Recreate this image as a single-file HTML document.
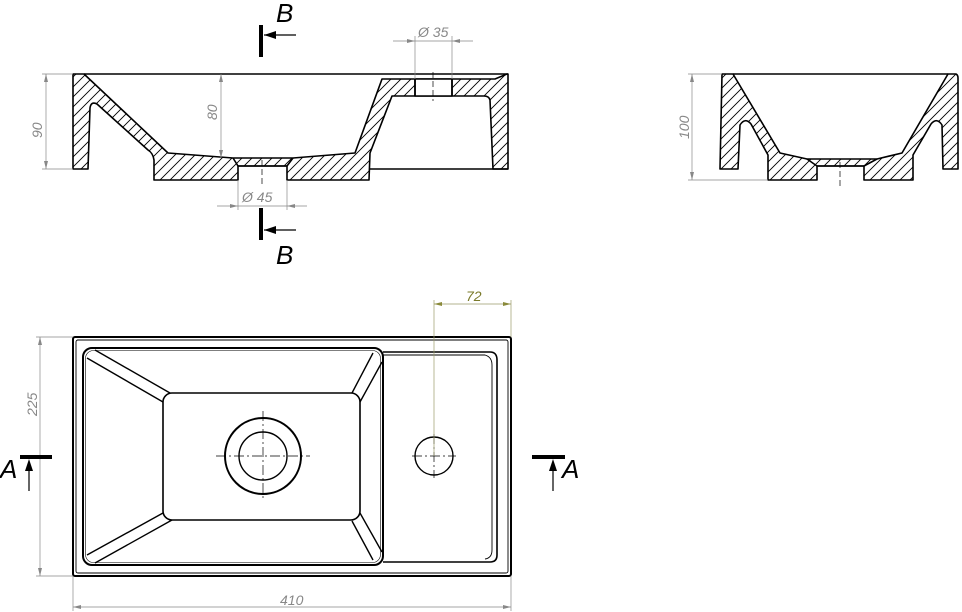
<!DOCTYPE html>
<html><head><meta charset="utf-8"><style>
html,body{margin:0;padding:0;background:#fff;}
svg{display:block;}
text{font-family:"Liberation Sans",sans-serif;font-style:italic;}
</style></head><body>
<svg width="962" height="612" viewBox="0 0 962 612" xmlns="http://www.w3.org/2000/svg">
<defs>
<pattern id="h" width="10" height="10" patternUnits="userSpaceOnUse">
<path d="M0,10 L10,0 M-2,2 L2,-2 M8,12 L12,8" stroke="#000" stroke-width="0.9"/>
</pattern>
</defs>

<!-- ===== Section B-B (left top) ===== -->
<g stroke="#000" stroke-width="1.6" stroke-linejoin="round">
<path fill="url(#h)" d="M73,74 L84,74 L168,153 L233,158 L293,158 L355,153 L382,79 L495,79 L507,74 L508,74 L508,169 L493,169 L490,100 Q489,96 484,96 L392,96 L370,153 L369,180 L287,180 L287,166 L238,166 L238,180 L154,180 L154,160 Q153,153 148,150 L97,104 Q91,101 90,108 L88,169 L73,169 Z"/>
<line x1="84" y1="74" x2="508" y2="74"/>
<line x1="370" y1="169" x2="508" y2="169"/>
<rect x="415" y="79" width="37" height="17" fill="#fff"/>
<line x1="415" y1="79" x2="415" y2="96"/><line x1="452" y1="79" x2="452" y2="96"/>
<line x1="233" y1="158" x2="238" y2="166"/><line x1="293" y1="158" x2="287" y2="166"/>
<line x1="238" y1="166" x2="287" y2="166"/>
</g>
<g stroke="#000" stroke-width="0.7" stroke-dasharray="6,3">
<line x1="262" y1="160" x2="262" y2="186"/>
<line x1="433" y1="72" x2="433" y2="101"/>
</g>
<!-- dims -->
<g stroke="#888" stroke-width="0.7" fill="none">
<line x1="42" y1="74" x2="73" y2="74"/><line x1="42" y1="169" x2="73" y2="169"/>
<line x1="46" y1="74" x2="46" y2="169"/>
<line x1="221" y1="74" x2="221" y2="158"/>
<line x1="393" y1="41" x2="473" y2="41"/>
<line x1="415" y1="36" x2="415" y2="79"/><line x1="452" y1="36" x2="452" y2="79"/>
<line x1="217" y1="206" x2="307" y2="206"/>
<line x1="238" y1="180" x2="238" y2="210"/><line x1="287" y1="180" x2="287" y2="210"/>
</g>
<g fill="#888">
<path d="M46,74 l-2,8 h4z"/><path d="M46,169 l-2,-8 h4z"/>
<path d="M221,74 l-2,8 h4z"/><path d="M221,158 l-2,-8 h4z"/>
<path d="M415,41 l-8,-2 v4z"/><path d="M452,41 l8,-2 v4z"/>
<path d="M238,206 l-8,-2 v4z"/><path d="M287,206 l8,-2 v4z"/>
</g>
<g fill="#888" font-size="14">
<text transform="translate(42,138) rotate(-90)">90</text>
<text transform="translate(217,120) rotate(-90)">80</text>
<text x="418" y="37">Ø 35</text>
<text x="242" y="202">Ø 45</text>
</g>
<!-- B markers -->
<g stroke="#000">
<line x1="261" y1="25" x2="261" y2="57" stroke-width="4"/>
<line x1="264" y1="35" x2="296" y2="35" stroke-width="1.2"/>
<line x1="261" y1="208" x2="261" y2="240" stroke-width="4"/>
<line x1="264" y1="230" x2="296" y2="230" stroke-width="1.2"/>
</g>
<path d="M264,35 l12,-4 v8z"/><path d="M264,230 l12,-4 v8z"/>
<text x="276" y="22" font-size="26">B</text>
<text x="276" y="264" font-size="26">B</text>

<!-- ===== Section A-A (right) ===== -->
<g stroke="#000" stroke-width="1.6" stroke-linejoin="round">
<path fill="url(#h)" d="M722,74 L733,74 L780,153 L807,159 L877,159 L902,153 L948,74 L956,74 Q958,75 958,78 L958,169 L943,169 L942,125 Q937,117 931,124 L913,155 L913,180 L864,180 L864,166 L817,166 L817,180 L768,180 L768,155 L751,124 Q745,117 740,125 L738,169 L720,169 Z"/>
<line x1="733" y1="74" x2="948" y2="74"/>
<line x1="807" y1="159" x2="817" y2="166"/><line x1="877" y1="159" x2="864" y2="166"/>
<line x1="817" y1="166" x2="864" y2="166"/>
</g>
<line x1="840" y1="162" x2="840" y2="186" stroke="#000" stroke-width="0.7" stroke-dasharray="6,3"/>
<g stroke="#888" stroke-width="0.7">
<line x1="688" y1="74" x2="722" y2="74"/><line x1="688" y1="180" x2="768" y2="180"/>
<line x1="692" y1="74" x2="692" y2="180"/>
</g>
<g fill="#888"><path d="M692,74 l-2,8 h4z"/><path d="M692,180 l-2,-8 h4z"/></g>
<text transform="translate(689,139) rotate(-90)" fill="#888" font-size="14">100</text>

<!-- ===== Plan view ===== -->
<g stroke="#000" fill="none">
<rect x="73" y="337" width="438" height="239" rx="2" stroke-width="2"/>
<rect x="76" y="340" width="432" height="233" rx="2" stroke-width="0.9"/>
<rect x="83" y="348" width="300" height="217" rx="9" stroke-width="2"/>
<rect x="85.5" y="350.5" width="295" height="212" rx="8" stroke-width="0.6"/>
<path d="M383,352 L490,352 Q497,352 497,360 L497,555 Q497,562 490,562 L383,562" stroke-width="1.6"/>
<path d="M383,355 L485,355 Q492,357 492,365 L492,550 Q492,558 485,559" stroke-width="0.9"/>
<rect x="163" y="393" width="197" height="127" rx="9" stroke-width="1.6"/>
<g stroke-width="1.4">
<line x1="87" y1="358" x2="163" y2="402"/><line x1="95" y1="350" x2="170" y2="393"/>
<line x1="373" y1="353" x2="352" y2="393"/><line x1="382" y1="362" x2="360" y2="402"/>
<line x1="87" y1="555" x2="163" y2="513"/><line x1="95" y1="563" x2="172" y2="520"/>
<line x1="352" y1="521" x2="373" y2="560"/><line x1="360" y1="513" x2="382" y2="552"/>
</g>
<circle cx="263" cy="456" r="38" stroke-width="2"/>
<circle cx="263" cy="456" r="24" stroke-width="1.4"/>
<ellipse cx="434" cy="456" rx="19" ry="19" stroke-width="1.4"/>
</g>
<g stroke="#000" stroke-width="0.7" stroke-dasharray="10,3,2,3">
<line x1="216" y1="456" x2="310" y2="456"/><line x1="263" y1="411" x2="263" y2="500"/>
<line x1="412" y1="456" x2="456" y2="456"/><line x1="434" y1="434" x2="434" y2="478"/>
</g>
<!-- dims plan -->
<g stroke="#888" stroke-width="0.7">
<line x1="36" y1="337" x2="73" y2="337"/><line x1="36" y1="576" x2="73" y2="576"/>
<line x1="40" y1="337" x2="40" y2="576"/>
<line x1="73" y1="576" x2="73" y2="611"/><line x1="511" y1="576" x2="511" y2="611"/>
<line x1="73" y1="607" x2="511" y2="607"/>
</g>
<g fill="#888">
<path d="M40,337 l-2,8 h4z"/><path d="M40,576 l-2,-8 h4z"/>
<path d="M73,607 l8,-2 v4z"/><path d="M511,607 l-8,-2 v4z"/>
</g>
<text transform="translate(37,416) rotate(-90)" fill="#888" font-size="14">225</text>
<text x="280" y="605" fill="#888" font-size="14">410</text>
<g stroke="#9a9a6a" stroke-width="0.7">
<line x1="434" y1="300" x2="434" y2="456"/><line x1="511" y1="300" x2="511" y2="337"/>
<line x1="434" y1="304" x2="511" y2="304"/>
</g>
<g fill="#8a8a3a"><path d="M434,304 l8,-2 v4z"/><path d="M511,304 l-8,-2 v4z"/></g>
<text x="466" y="301" fill="#7a7a2a" font-size="14">72</text>
<!-- A markers -->
<g stroke="#000">
<line x1="20" y1="457" x2="52" y2="457" stroke-width="4"/>
<line x1="29" y1="462" x2="29" y2="491" stroke-width="1.2"/>
<line x1="532" y1="457" x2="565" y2="457" stroke-width="4"/>
<line x1="553" y1="462" x2="553" y2="491" stroke-width="1.2"/>
</g>
<path d="M29,459 l-4,12 h8z"/><path d="M553,459 l-4,12 h8z"/>
<text x="0" y="478" font-size="26">A</text>
<text x="562" y="478" font-size="26">A</text>
</svg>
</body></html>
